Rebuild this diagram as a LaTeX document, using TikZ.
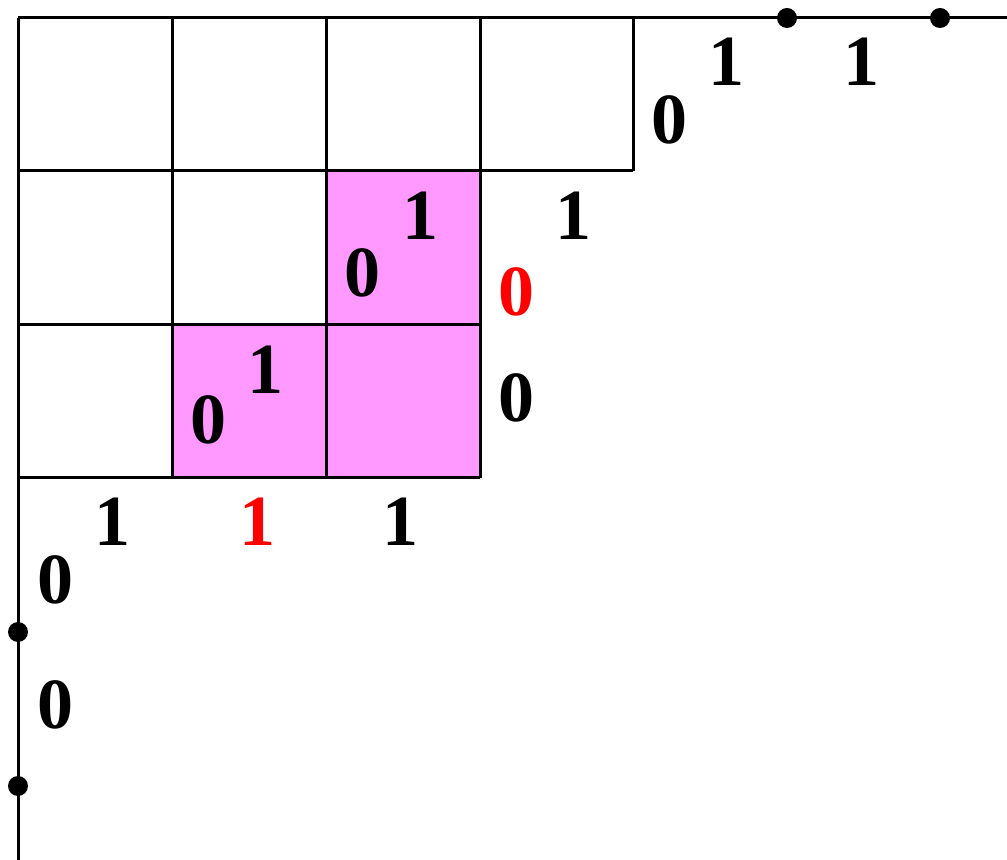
\documentclass[tikz,border=0pt]{standalone}
\usepackage{fontspec}
\setmainfont{Liberation Serif}
\definecolor{cellpink}{HTML}{FF99FF}
\definecolor{labred}{HTML}{FF0000}
\begin{document}
\begin{tikzpicture}[x=0.5pt,y=-0.5pt,
  edge/.style={line width=1.5pt},
  pinkcell/.style={fill=cellpink},
  lab/.style={inner sep=0pt,font=\fontsize{36}{40}\selectfont\bfseries},
  redlab/.style={lab,text=labred},
  dot/.style={circle,fill=black,inner sep=0pt,minimum size=10pt}]
\useasboundingbox (0,0) rectangle (1007,860);
% pink cells
\fill[pinkcell] (326,171) rectangle (480,325);
\fill[pinkcell] (172,325) rectangle (480,478);
% axes
\coordinate (o) at (18,18);
\coordinate (xe) at (1007,18);
\coordinate (ye) at (18,860);
\draw[edge] (o) -- (xe);
\draw[edge] (o) -- (ye);
% grid
\draw[edge] (18,171) -- (633,171);
\draw[edge] (18,325) -- (480,325);
\draw[edge] (18,478) -- (480,478);
\draw[edge] (172,18) -- (172,478);
\draw[edge] (326,18) -- (326,478);
\draw[edge] (480,18) -- (480,478);
\draw[edge] (633,18) -- (633,171);
% dots
\node[dot] (d1) at (787,18) {};
\node[dot] (d2) at (940,18) {};
\node[dot] (d3) at (18,632) {};
\node[dot] (d4) at (18,786) {};
% labels
\node[lab] (t0) at (669,120) {0};
\node[lab] (t1) at (726,62) {1};
\node[lab] (t2) at (861,62) {1};
\node[lab] (r1) at (573,216) {1};
\node[redlab] (r2) at (516,292) {0};
\node[lab] (r3) at (516,398) {0};
\node[lab] (p0) at (362,273) {0};
\node[lab] (p1) at (420,216) {1};
\node[lab] (q0) at (208,420) {0};
\node[lab] (q1) at (265,370) {1};
\node[lab] (b1) at (112,522) {1};
\node[redlab] (b2) at (257,522) {1};
\node[lab] (b3) at (400,522) {1};
\node[lab] (l1) at (55,580) {0};
\node[lab] (l2) at (55,705) {0};
\end{tikzpicture}
\end{document}
